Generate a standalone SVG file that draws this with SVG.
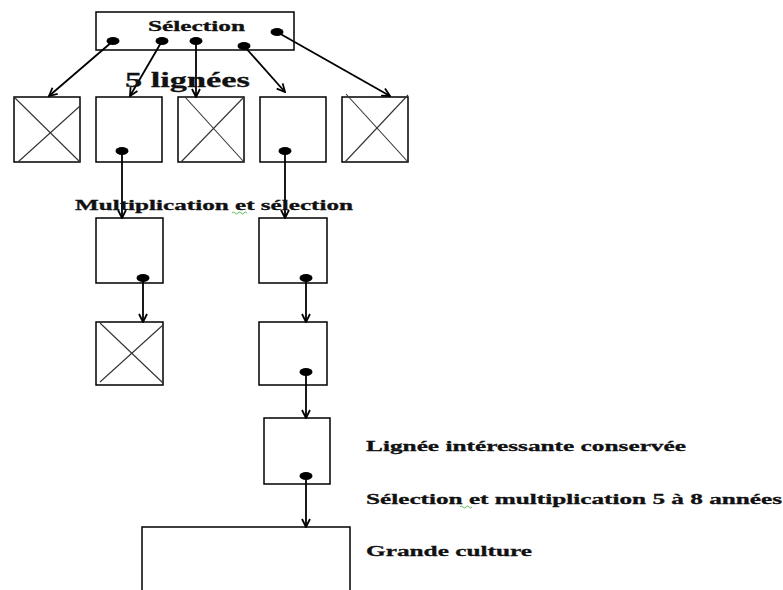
<svg xmlns="http://www.w3.org/2000/svg" width="783" height="590" viewBox="0 0 783 590">
<defs>
<marker id="ah" viewBox="0 0 10 10" refX="9" refY="5" markerWidth="10" markerHeight="10" markerUnits="userSpaceOnUse" orient="auto">
<path d="M1,1 L9,5 L1,9" fill="none" stroke="#000" stroke-width="1.8"/>
</marker>
<style>
.box{fill:#fff;stroke:#000;stroke-width:1.5}
.x{stroke:#333;stroke-width:1.1}
.dot{fill:#000}
.con line{stroke:#000;stroke-width:1.8;marker-end:url(#ah)}
.t{font-family:"Liberation Serif","Times New Roman",serif;font-weight:700;fill:#111;stroke:#111;stroke-width:0.3}
.sq{fill:none;stroke:#3a3;stroke-width:0.8}
</style>
</defs>
<rect width="783" height="590" fill="#fff"/>

<g id="selection">
<rect class="box" x="96" y="12" width="198" height="38"/>
<text class="t" x="148" y="31" font-size="15" textLength="97" lengthAdjust="spacingAndGlyphs">Sélection</text>
</g>

<g id="l1">
<rect class="box" x="14" y="97" width="66" height="65"/>
<line class="x" x1="14" y1="97" x2="80" y2="162"/>
<line class="x" x1="18" y1="162" x2="80" y2="106"/>
</g>
<g id="l2">
<rect class="box" x="96" y="97" width="66" height="65"/>
</g>
<g id="l3">
<rect class="box" x="178" y="97" width="66" height="65"/>
<line class="x" x1="185" y1="97" x2="244" y2="162"/>
<line class="x" x1="181" y1="162" x2="244" y2="97"/>
</g>
<g id="l4">
<rect class="box" x="260" y="97" width="66" height="65"/>
</g>
<g id="l5">
<rect class="box" x="342" y="97" width="66" height="65"/>
<line class="x" x1="346" y1="94" x2="408" y2="162"/>
<line class="x" x1="345" y1="162" x2="408" y2="95"/>
</g>

<g id="m1">
<rect class="box" x="96" y="218" width="67" height="65"/>
</g>
<g id="m2">
<rect class="box" x="259" y="218" width="68" height="65"/>
</g>
<g id="n1">
<rect class="box" x="96" y="322" width="67" height="63"/>
<line class="x" x1="100" y1="323" x2="163" y2="383"/>
<line class="x" x1="100" y1="382" x2="163" y2="325"/>
</g>
<g id="n2">
<rect class="box" x="259" y="322" width="68" height="63"/>
</g>
<g id="conserved">
<rect class="box" x="264" y="418" width="66" height="66"/>
</g>
<g id="culture">
<rect class="box" x="142" y="527" width="208" height="80"/>
</g>

<g class="con" id="connectors">
<line x1="113" y1="41" x2="49" y2="96"/>
<line x1="162" y1="41" x2="130" y2="96"/>
<line x1="196" y1="41" x2="196" y2="97"/>
<line x1="244" y1="46" x2="285" y2="92"/>
<line x1="277" y1="32" x2="390" y2="96"/>
<line x1="122" y1="151" x2="122" y2="218"/>
<line x1="285" y1="151" x2="285" y2="218"/>
<line x1="143" y1="278" x2="143" y2="322"/>
<line x1="306" y1="278" x2="306" y2="322"/>
<line x1="306" y1="372" x2="306" y2="418"/>
<line x1="306" y1="480" x2="306" y2="527"/>
</g>

<g id="dots">
<ellipse class="dot" cx="113" cy="41" rx="6.5" ry="4"/>
<ellipse class="dot" cx="162" cy="41" rx="6.5" ry="4"/>
<ellipse class="dot" cx="196" cy="41" rx="6.5" ry="4"/>
<ellipse class="dot" cx="244" cy="46" rx="6.5" ry="4"/>
<ellipse class="dot" cx="277" cy="32" rx="6.5" ry="4"/>
<ellipse class="dot" cx="122" cy="151" rx="6.5" ry="4"/>
<ellipse class="dot" cx="285" cy="151" rx="6.5" ry="4"/>
<ellipse class="dot" cx="143" cy="278" rx="6.5" ry="4"/>
<ellipse class="dot" cx="306" cy="278" rx="6.5" ry="4"/>
<ellipse class="dot" cx="306" cy="372" rx="6.5" ry="4"/>
<ellipse class="dot" cx="306" cy="476" rx="6.5" ry="4"/>
</g>

<g id="labels">
<text class="t" x="125" y="87" font-size="22" textLength="125" lengthAdjust="spacingAndGlyphs">5 lignées</text>
<text class="t" x="75" y="210" font-size="15" textLength="278" lengthAdjust="spacingAndGlyphs">Multiplication et sélection</text>
<text class="t" x="366" y="451" font-size="15" textLength="320" lengthAdjust="spacingAndGlyphs">Lignée intéressante conservée</text>
<text class="t" x="366" y="504" font-size="15" textLength="416" lengthAdjust="spacingAndGlyphs">Sélection et multiplication 5 à 8 années</text>
<text class="t" x="366" y="556" font-size="15" textLength="166" lengthAdjust="spacingAndGlyphs">Grande culture</text>
<path class="sq" d="M232,213 q1.5,-2 3,0 t3,0 t3,0 t3,0 t3,0"/>
<path class="sq" d="M460,507 q1.5,-2 3,0 t3,0 t3,0 t3,0"/>
</g>
</svg>
